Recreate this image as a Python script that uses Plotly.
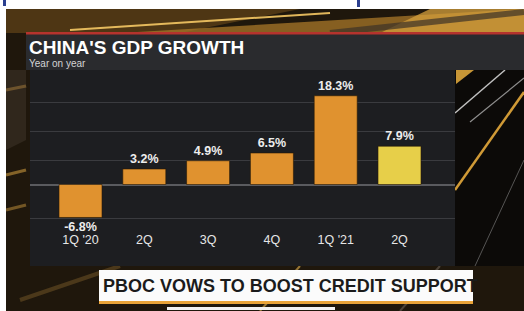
import plotly.graph_objects as go

# ---------------- data ----------------
quarters = ["1Q '20", "2Q", "3Q", "4Q", "1Q '21", "2Q"]
growth = [-6.8, 3.2, 4.9, 6.5, 18.3, 7.9]
grid_vals = [-7, 5, 11, 17]
title_text = "CHINA'S GDP GROWTH"
subtitle_text = "Year on year"
headline_text = "PBOC VOWS TO BOOST CREDIT SUPPORT"

# ---------------- geometry (pixels) ----------------
W, H = 524, 311
PL, PR, PT, PB = 30, 455, 70, 230       # plot area
ZERO_PX, PX_PER_UNIT = 184.5, 4.85
C0, STEP = 80.5, 63.8


def fx(p):
    return p / W


def fy(p):
    return 1 - p / H


y_range = [-(PB - ZERO_PX) / PX_PER_UNIT, (ZERO_PX - PT) / PX_PER_UNIT]
x_range = [(PL - C0) / STEP, (PR - C0) / STEP]

ORANGE = "#e0922f"
YELLOW = "#e7cf49"
bar_colors = [ORANGE] * (len(growth) - 1) + [YELLOW]

FONT = "Liberation Sans"

fig = go.Figure()
fig.add_trace(go.Bar(
    x=list(range(len(quarters))),
    y=growth,
    width=0.674,
    marker=dict(color=bar_colors, line=dict(color="rgba(40,25,5,0.6)", width=1)),
    text=[f"{v:.1f}%" for v in growth],
    textposition="outside",
    textfont=dict(family=FONT, size=12.5, color="#ededed", weight="bold"),
    constraintext="none",
    cliponaxis=False,
    hoverinfo="skip",
))


def rect(x0, y0, x1, y1, color, layer="below", line=None):
    return dict(type="rect", xref="paper", yref="paper",
                x0=fx(x0), x1=fx(x1), y0=fy(y1), y1=fy(y0),
                fillcolor=color, line=line or dict(width=0), layer=layer)


def seg(x0, y0, x1, y1, color, width, layer="below"):
    return dict(type="line", xref="paper", yref="paper",
                x0=fx(x0), x1=fx(x1), y0=fy(y0), y1=fy(y1),
                line=dict(color=color, width=width), layer=layer)


def poly(pts, color, layer="below"):
    d = "M " + " L ".join(f"{fx(x)},{fy(y)}" for x, y in pts) + " Z"
    return dict(type="path", xref="paper", yref="paper", path=d,
                fillcolor=color, line=dict(width=0), layer=layer)


shapes = [
    # broadcast frame background (paper is the frame colour)
    poly([(6, 9), (300, 9), (180, 33), (6, 33)], "rgba(90,62,22,0.8)"),
    poly([(120, 33), (524, 9), (524, 33)], "rgba(170,120,40,0.75)"),
    poly([(380, 33), (430, 9), (524, 9), (524, 33)], "rgba(214,160,60,0.75)"),
    seg(70, 30, 330, 13, "rgba(245,200,100,0.9)", 2),
    seg(330, 33, 524, 12, "rgba(60,50,40,0.7)", 6),
    seg(6, 90, 26, 86, "rgba(220,160,60,0.8)", 3),
    seg(6, 175, 26, 170, "rgba(200,150,60,0.6)", 3),
    seg(6, 210, 26, 205, "rgba(200,150,60,0.5)", 3),
    poly([(6, 70), (26, 70), (26, 140), (6, 150)], "rgba(60,50,40,0.6)"),
    # right side dark area with streaks
    rect(455, 70, 524, 266, "#0c0a08"),
    seg(455, 113, 505, 70, "rgba(225,225,225,0.85)", 1.5),
    seg(470, 122, 524, 78, "rgba(200,200,200,0.7)", 1.2),
    seg(455, 190, 524, 92, "rgba(230,170,60,0.9)", 2.5),
    seg(475, 266, 524, 160, "rgba(160,160,160,0.5)", 1),
    poly([(456, 70), (474, 70), (456, 84)], "rgba(220,165,60,0.9)"),
    # bottom area streaks
    seg(20, 300, 120, 266, "rgba(120,90,40,0.5)", 4),
    seg(260, 311, 300, 266, "rgba(230,180,80,0.6)", 2),
    seg(400, 311, 440, 266, "rgba(120,110,100,0.5)", 2),
    # chart panel
    rect(30, 70, 455, 266, "#1d1e21"),
    # header
    rect(26, 34, 524, 70, "#2a2b2e"),
    rect(26, 32, 524, 34.5, "#b5332d"),
    # white page margins outside the video frame
    rect(0, 0, 524, 9, "#ffffff", layer="above"),
    rect(0, 0, 6, 311, "#ffffff", layer="above"),
    # lower third
    rect(99, 270, 473, 301, "#fbfbfb", layer="above"),
    rect(99, 301, 473, 304, "#e9a338", layer="above"),
    # home indicator
    rect(167, 307, 335, 310, "#f2f2f2", layer="above"),
    # cropped blue text fragments at top
    rect(3, 0, 6, 6, "#2b3f8f", layer="above"),
    rect(357, 0, 360, 7, "#2b3f8f", layer="above"),
]

annotations = [
    dict(text=title_text, xref="paper", yref="paper", x=fx(27), y=fy(47),
         xanchor="left", yanchor="middle", showarrow=False,
         font=dict(family=FONT, size=19, color="#ffffff", weight="bold")),
    dict(text=subtitle_text, xref="paper", yref="paper", x=fx(27), y=fy(63.5),
         xanchor="left", yanchor="middle", showarrow=False,
         font=dict(family=FONT, size=10, color="#d4d4d4")),
    dict(text=headline_text, xref="paper", yref="paper", x=fx(290), y=fy(286),
         xanchor="center", yanchor="middle", showarrow=False,
         font=dict(family=FONT, size=18, color="#1b1b1b", weight="bold")),
]

fig.update_layout(
    width=W, height=H,
    margin=dict(l=0, r=0, t=0, b=0),
    paper_bgcolor="#1f170c",
    plot_bgcolor="rgba(0,0,0,0)",
    showlegend=False,
    shapes=shapes,
    annotations=annotations,
    xaxis=dict(domain=[fx(PL), fx(PR)], range=x_range,
               tickmode="array", tickvals=list(range(len(quarters))), ticktext=quarters,
               showgrid=False, zeroline=False, showline=False, ticks="",
               tickfont=dict(family=FONT, size=12.5, color="#e6e6e6"),
               fixedrange=True),
    yaxis=dict(domain=[fy(PB), fy(PT)], range=y_range,
               tickmode="array", tickvals=grid_vals, showticklabels=False,
               showgrid=True, gridcolor="#3a3b3f", gridwidth=1,
               zeroline=True, zerolinecolor="#5a5b5f", zerolinewidth=1.5,
               showline=False, ticks="", fixedrange=True),
)

fig.write_html(
    "out.html", config={"displayModeBar": False},
    post_script=("document.documentElement.style.margin='0';"
                 "document.documentElement.style.overflow='hidden';"
                 "document.documentElement.style.background='#0c0a08';"
                 "document.body.style.margin='0';"
                 "document.body.style.overflow='hidden';"
                 "document.body.style.background='#0c0a08';"))
